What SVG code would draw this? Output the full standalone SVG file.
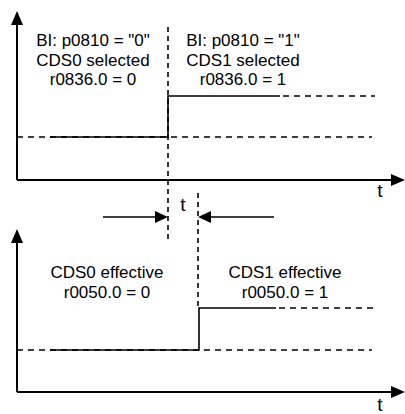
<svg xmlns="http://www.w3.org/2000/svg" width="405" height="414" viewBox="0 0 405 414">
<style>
.axis{stroke:#000;stroke-width:2;fill:none}
.sig{stroke:#000;stroke-width:1.6;fill:none}
.dash{stroke:#000;stroke-width:1.6;fill:none;stroke-dasharray:6,5}
.vdash{stroke:#000;stroke-width:1.6;fill:none;stroke-dasharray:5,4}
.head{fill:#000}
text{font-family:"Liberation Sans",Arial,sans-serif;font-size:17px;fill:#000}
.c{text-anchor:middle}
.t{font-size:19px}
</style>
<g id="top-chart">
<line class="axis" x1="17" y1="24" x2="17" y2="180"/>
<polygon class="head" points="17,11 11,25 23,25"/>
<line class="axis" x1="17" y1="180" x2="392" y2="180"/>
<polygon class="head" points="405,180 391,174 391,186"/>
<text x="380" y="197" class="c t">t</text>
<line class="dash" x1="17" y1="137" x2="372" y2="137"/>
<polyline class="sig" points="50,137 168,137 168,96 280,96"/>
<line class="dash" x1="283" y1="96" x2="375" y2="96"/>
<text class="c" x="93" y="46">BI: p0810 = "0"</text>
<text class="c" x="93" y="65.5">CDS0 selected</text>
<text class="c" x="93" y="85">r0836.0 = 0</text>
<text class="c" x="243" y="46">BI: p0810 = "1"</text>
<text class="c" x="243" y="65.5">CDS1 selected</text>
<text class="c" x="243" y="85">r0836.0 = 1</text>
</g>
<g id="bottom-chart">
<line class="axis" x1="17" y1="242" x2="17" y2="392"/>
<polygon class="head" points="17,229 11,243 23,243"/>
<line class="axis" x1="17" y1="392" x2="392" y2="392"/>
<polygon class="head" points="405,392 391,386 391,398"/>
<text x="380" y="411" class="c t">t</text>
<line class="dash" x1="17" y1="350" x2="372" y2="350"/>
<polyline class="sig" points="50,350 199,350 199,308 276,308"/>
<line class="dash" x1="279" y1="308" x2="375" y2="308"/>
<text class="c" x="107" y="278">CDS0 effective</text>
<text class="c" x="107" y="298">r0050.0 = 0</text>
<text class="c" x="285" y="278">CDS1 effective</text>
<text class="c" x="285" y="298">r0050.0 = 1</text>
</g>
<g id="connectors">
<line class="vdash" x1="168" y1="27" x2="168" y2="242"/>
<line class="vdash" x1="198" y1="193" x2="198" y2="308"/>
<line class="sig" x1="103" y1="217" x2="158" y2="217"/>
<polygon class="head" points="168,217 155,211 155,223"/>
<line class="sig" x1="208" y1="217" x2="274" y2="217"/>
<polygon class="head" points="198,217 211,211 211,223"/>
<text class="c t" x="183" y="211">t</text>
</g>
</svg>
